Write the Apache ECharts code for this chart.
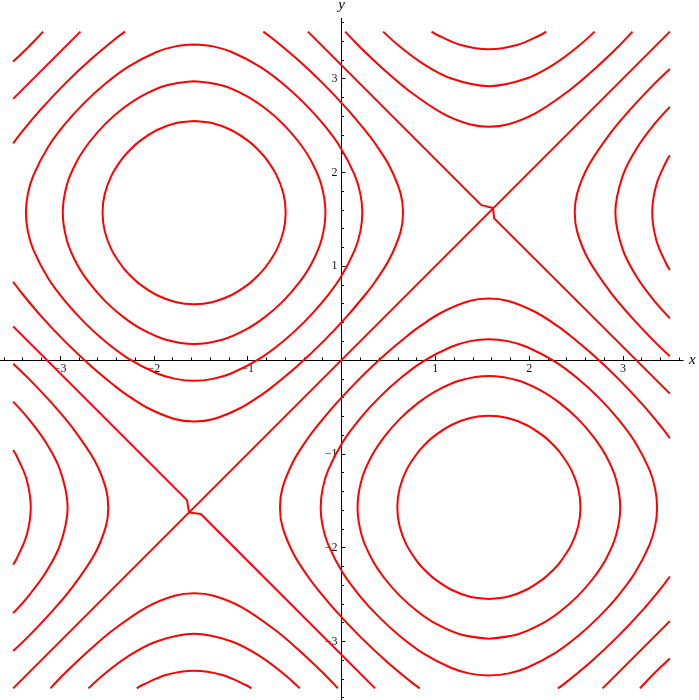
<!DOCTYPE html>
<html><head><meta charset="utf-8">
<script src="https://cdn.jsdelivr.net/npm/echarts@6/dist/echarts.min.js"></script>
<style>html,body{margin:0;padding:0;background:#fff}#c{width:699px;height:700px}</style>
</head><body><div id="c"></div>
<script>
// Tick values
const majorTicks = [-3, -2, -1, 1, 2, 3];
const minorTicks = [-3.6,-3.4,-3.2,-2.8,-2.6,-2.4,-2.2,-1.8,-1.6,-1.4,-1.2,-0.8,-0.6,-0.4,-0.2,0.2,0.4,0.6,0.8,1.2,1.4,1.6,1.8,2.2,2.4,2.6,2.8,3.2,3.4,3.6];

// Contour lines, [x, y] pairs
// level -1.56 ring (upper left)
const minRing156 = [[-1.571,2.547],[-1.371,2.523],[-1.171,2.449],[-0.991,2.333],[-0.895,2.247],[-0.809,2.151],[-0.693,1.971],[-0.619,1.771],[-0.595,1.571],[-0.619,1.371],[-0.693,1.171],[-0.809,0.991],[-0.895,0.895],[-0.991,0.809],[-1.171,0.693],[-1.371,0.619],[-1.571,0.595],[-1.771,0.619],[-1.971,0.693],[-2.151,0.809],[-2.247,0.895],[-2.333,0.991],[-2.449,1.171],[-2.523,1.371],[-2.547,1.571],[-2.523,1.771],[-2.449,1.971],[-2.333,2.151],[-2.247,2.247],[-2.151,2.333],[-1.971,2.449],[-1.771,2.523],[-1.571,2.547]];
// level -1.17 ring
const minRing117 = [[-1.571,2.971],[-1.271,2.926],[-1.021,2.819],[-0.821,2.688],[-0.625,2.517],[-0.454,2.321],[-0.323,2.121],[-0.216,1.871],[-0.171,1.571],[-0.216,1.271],[-0.323,1.021],[-0.454,0.821],[-0.625,0.625],[-0.821,0.454],[-1.021,0.323],[-1.271,0.216],[-1.571,0.171],[-1.871,0.216],[-2.121,0.323],[-2.321,0.454],[-2.517,0.625],[-2.688,0.821],[-2.819,1.021],[-2.926,1.271],[-2.971,1.571],[-2.926,1.871],[-2.819,2.121],[-2.688,2.321],[-2.517,2.517],[-2.321,2.688],[-2.121,2.819],[-1.871,2.926],[-1.571,2.971]];
// level -0.78 ring
const minRing078 = [[-1.571,3.364],[-1.371,3.343],[-1.171,3.283],[-0.871,3.127],[-0.621,2.942],[-0.401,2.741],[-0.2,2.521],[-0.015,2.271],[0.141,1.971],[0.201,1.771],[0.222,1.571],[0.201,1.371],[0.141,1.171],[-0.015,0.871],[-0.2,0.621],[-0.401,0.401],[-0.621,0.2],[-0.871,0.015],[-1.171,-0.141],[-1.371,-0.201],[-1.571,-0.222],[-1.771,-0.201],[-1.971,-0.141],[-2.271,0.015],[-2.521,0.2],[-2.741,0.401],[-2.942,0.621],[-3.127,0.871],[-3.283,1.171],[-3.343,1.371],[-3.364,1.571],[-3.343,1.771],[-3.283,1.971],[-3.127,2.271],[-2.942,2.521],[-2.741,2.741],[-2.521,2.942],[-2.271,3.127],[-1.971,3.283],[-1.771,3.343],[-1.571,3.364]];
// level -0.39 open curve
const minBig039 = [[-0.834,3.5],[-0.721,3.415],[-0.471,3.205],[-0.196,2.946],[0.063,2.671],[0.273,2.421],[0.358,2.308],[0.509,2.071],[0.629,1.779],[0.656,1.571],[0.629,1.363],[0.509,1.071],[0.358,0.834],[0.273,0.721],[0.063,0.471],[-0.196,0.196],[-0.471,-0.063],[-0.721,-0.273],[-0.834,-0.358],[-1.071,-0.509],[-1.363,-0.629],[-1.571,-0.656],[-1.779,-0.629],[-2.071,-0.509],[-2.308,-0.358],[-2.421,-0.273],[-2.671,-0.063],[-2.946,0.196],[-3.205,0.471],[-3.415,0.721],[-3.5,0.834]];
const minCorner039 = [[-3.5,2.308],[-3.415,2.421],[-3.205,2.671],[-2.946,2.946],[-2.671,3.205],[-2.421,3.415],[-2.308,3.5]];

// level +1.56 / +1.17 / +0.78 rings (lower right)
const maxRing156 = [[1.571,-2.547],[1.371,-2.523],[1.171,-2.449],[0.991,-2.333],[0.895,-2.247],[0.809,-2.151],[0.693,-1.971],[0.619,-1.771],[0.595,-1.571],[0.619,-1.371],[0.693,-1.171],[0.809,-0.991],[0.895,-0.895],[0.991,-0.809],[1.171,-0.693],[1.371,-0.619],[1.571,-0.595],[1.771,-0.619],[1.971,-0.693],[2.151,-0.809],[2.247,-0.895],[2.333,-0.991],[2.449,-1.171],[2.523,-1.371],[2.547,-1.571],[2.523,-1.771],[2.449,-1.971],[2.333,-2.151],[2.247,-2.247],[2.151,-2.333],[1.971,-2.449],[1.771,-2.523],[1.571,-2.547]];
const maxRing117 = [[1.571,-2.971],[1.271,-2.926],[1.021,-2.819],[0.821,-2.688],[0.625,-2.517],[0.454,-2.321],[0.323,-2.121],[0.216,-1.871],[0.171,-1.571],[0.216,-1.271],[0.323,-1.021],[0.454,-0.821],[0.625,-0.625],[0.821,-0.454],[1.021,-0.323],[1.271,-0.216],[1.571,-0.171],[1.871,-0.216],[2.121,-0.323],[2.321,-0.454],[2.517,-0.625],[2.688,-0.821],[2.819,-1.021],[2.926,-1.271],[2.971,-1.571],[2.926,-1.871],[2.819,-2.121],[2.688,-2.321],[2.517,-2.517],[2.321,-2.688],[2.121,-2.819],[1.871,-2.926],[1.571,-2.971]];
const maxRing078 = [[1.571,-3.364],[1.371,-3.343],[1.171,-3.283],[0.871,-3.127],[0.621,-2.942],[0.401,-2.741],[0.2,-2.521],[0.015,-2.271],[-0.141,-1.971],[-0.201,-1.771],[-0.222,-1.571],[-0.201,-1.371],[-0.141,-1.171],[0.015,-0.871],[0.2,-0.621],[0.401,-0.401],[0.621,-0.2],[0.871,-0.015],[1.171,0.141],[1.371,0.201],[1.571,0.222],[1.771,0.201],[1.971,0.141],[2.271,-0.015],[2.521,-0.2],[2.741,-0.401],[2.942,-0.621],[3.127,-0.871],[3.283,-1.171],[3.343,-1.371],[3.364,-1.571],[3.343,-1.771],[3.283,-1.971],[3.127,-2.271],[2.942,-2.521],[2.741,-2.741],[2.521,-2.942],[2.271,-3.127],[1.971,-3.283],[1.771,-3.343],[1.571,-3.364]];
const maxBig039 = [[0.834,-3.5],[0.721,-3.415],[0.471,-3.205],[0.196,-2.946],[-0.063,-2.671],[-0.273,-2.421],[-0.358,-2.308],[-0.509,-2.071],[-0.629,-1.779],[-0.656,-1.571],[-0.629,-1.363],[-0.509,-1.071],[-0.358,-0.834],[-0.273,-0.721],[-0.063,-0.471],[0.196,-0.196],[0.471,0.063],[0.721,0.273],[0.834,0.358],[1.071,0.509],[1.363,0.629],[1.571,0.656],[1.779,0.629],[2.071,0.509],[2.308,0.358],[2.421,0.273],[2.671,0.063],[2.946,-0.196],[3.205,-0.471],[3.415,-0.721],[3.5,-0.834]];
const maxCorner039 = [[3.5,-2.308],[3.415,-2.421],[3.205,-2.671],[2.946,-2.946],[2.671,-3.205],[2.421,-3.415],[2.308,-3.5]];

// bottom arcs (levels -0.39, -0.78, -1.17)
const botArc039 = [[-3.102,-3.5],[-2.946,-3.337],[-2.671,-3.078],[-2.421,-2.868],[-2.071,-2.632],[-1.779,-2.513],[-1.571,-2.486],[-1.363,-2.513],[-1.071,-2.632],[-0.721,-2.868],[-0.471,-3.078],[-0.196,-3.337],[-0.039,-3.5]];
const botArc078 = [[-2.698,-3.5],[-2.521,-3.341],[-2.271,-3.156],[-1.971,-3.0],[-1.571,-2.919],[-1.171,-3.0],[-0.871,-3.156],[-0.621,-3.341],[-0.444,-3.5]];
const botArc117 = [[-2.182,-3.5],[-2.121,-3.464],[-1.871,-3.357],[-1.571,-3.312],[-1.271,-3.357],[-1.021,-3.464],[-0.96,-3.5]];
// top arcs (levels +0.39, +0.78, +1.17)
const topArc039 = [[3.102,3.5],[2.946,3.337],[2.671,3.078],[2.421,2.868],[2.071,2.632],[1.779,2.513],[1.571,2.486],[1.363,2.513],[1.071,2.632],[0.721,2.868],[0.471,3.078],[0.196,3.337],[0.039,3.5]];
const topArc078 = [[2.698,3.5],[2.521,3.341],[2.271,3.156],[1.971,3.0],[1.571,2.919],[1.171,3.0],[0.871,3.156],[0.621,3.341],[0.444,3.5]];
const topArc117 = [[2.182,3.5],[2.121,3.464],[1.871,3.357],[1.571,3.312],[1.271,3.357],[1.021,3.464],[0.96,3.5]];
// right arcs (levels -0.39, -0.78, -1.17)
const rightArc039 = [[3.5,3.102],[3.337,2.946],[3.078,2.671],[2.868,2.421],[2.632,2.071],[2.513,1.779],[2.486,1.571],[2.513,1.363],[2.632,1.071],[2.868,0.721],[3.078,0.471],[3.337,0.196],[3.5,0.039]];
const rightArc078 = [[3.5,2.698],[3.341,2.521],[3.156,2.271],[3.0,1.971],[2.919,1.571],[3.0,1.171],[3.156,0.871],[3.341,0.621],[3.5,0.444]];
const rightArc117 = [[3.5,2.182],[3.464,2.121],[3.357,1.871],[3.312,1.571],[3.357,1.271],[3.464,1.021],[3.5,0.96]];
// left arcs (levels +0.39, +0.78, +1.17)
const leftArc039 = [[-3.5,-3.102],[-3.337,-2.946],[-3.078,-2.671],[-2.868,-2.421],[-2.632,-2.071],[-2.513,-1.779],[-2.486,-1.571],[-2.513,-1.363],[-2.632,-1.071],[-2.868,-0.721],[-3.078,-0.471],[-3.337,-0.196],[-3.5,-0.039]];
const leftArc078 = [[-3.5,-2.698],[-3.341,-2.521],[-3.156,-2.271],[-3.0,-1.971],[-2.919,-1.571],[-3.0,-1.171],[-3.156,-0.871],[-3.341,-0.621],[-3.5,-0.444]];
const leftArc117 = [[-3.5,-2.182],[-3.464,-2.121],[-3.357,-1.871],[-3.312,-1.571],[-3.357,-1.271],[-3.464,-1.021],[-3.5,-0.96]];
// corner arcs
const cornerBR = [[3.181,-3.5],[3.262,-3.414],[3.337,-3.337],[3.414,-3.262],[3.5,-3.181]];
const cornerTL = [[-3.181,3.5],[-3.262,3.414],[-3.337,3.337],[-3.414,3.262],[-3.5,3.181]];
// level 0 lines
const zeroDiag = [[-3.5,-3.5],[3.5,3.5]];
const zeroUpper = [[-0.358,3.5],[1.49,1.651],[1.615,1.62],[1.627,1.51],[3.5,-0.358]];
const zeroLower = [[-3.5,0.358],[-1.647,-1.494],[-1.625,-1.625],[-1.5,-1.641],[0.358,-3.5]];
const zeroTL = [[-3.5,2.783],[-2.783,3.5]];
const zeroBR = [[2.783,-3.5],[3.5,-2.783]];

const smoothCurves = [minRing156, minRing117, minRing078, minBig039, minCorner039,
  maxRing156, maxRing117, maxRing078, maxBig039, maxCorner039,
  botArc039, botArc078, botArc117, topArc039, topArc078, topArc117,
  rightArc039, rightArc078, rightArc117, leftArc039, leftArc078, leftArc117,
  cornerBR, cornerTL];
const straightCurves = [zeroDiag, zeroUpper, zeroLower, zeroTL, zeroBR];

const RED = '#ff0000';
const mk = (d, sm) => ({type: 'line', data: d, showSymbol: false, symbol: 'none', smooth: sm,
  lineStyle: {color: RED, width: 2}, silent: true, clip: false, z: 3});
const series = smoothCurves.map(d => mk(d, 0.35)).concat(straightCurves.map(d => mk(d, false)));

const fmt = v => (v < 0 ? '\u2212' + Math.abs(v) : String(v));
const labelFont = {fontFamily: 'Liberation Serif', fontSize: 12, color: '#111'};
const LIM = 3.64;
const GW = 683;            // grid size in px
const OFF = -GW / 2;       // moves axes from the grid edge to the middle (value 0)
const axisLine = {onZero: false, lineStyle: {color: '#000', width: 1}};

const option = {
  animation: false,
  backgroundColor: '#fff',
  grid: {left: 0, top: 18.5, width: GW, height: GW, containLabel: false, outerBoundsMode: 'none'},
  xAxis: [
    {type: 'value', min: -LIM, max: LIM, position: 'bottom', offset: OFF, axisLine: axisLine,
     axisTick: {inside: true, length: 4, customValues: majorTicks, lineStyle: {color: '#000'}},
     axisLabel: Object.assign({customValues: majorTicks, formatter: fmt, margin: 3}, labelFont),
     splitLine: {show: false},
     name: 'x', nameLocation: 'end', nameGap: 6,
     nameTextStyle: {fontFamily: 'Liberation Serif', fontStyle: 'italic', fontSize: 15, color: '#000'}},
    {type: 'value', min: -LIM, max: LIM, position: 'bottom', offset: OFF, axisLine: axisLine,
     axisTick: {inside: true, length: 2.5, customValues: minorTicks, lineStyle: {color: '#000'}},
     axisLabel: {show: false}, splitLine: {show: false}}
  ],
  yAxis: [
    {type: 'value', min: -LIM, max: LIM, position: 'left', offset: OFF, axisLine: axisLine,
     axisTick: {inside: true, length: 4, customValues: majorTicks, lineStyle: {color: '#000'}},
     axisLabel: Object.assign({customValues: majorTicks, formatter: fmt, margin: 4}, labelFont),
     splitLine: {show: false},
     name: 'y', nameLocation: 'end', nameGap: 6,
     nameTextStyle: {fontFamily: 'Liberation Serif', fontStyle: 'italic', fontSize: 15, color: '#000'}},
    {type: 'value', min: -LIM, max: LIM, position: 'left', offset: OFF, axisLine: axisLine,
     axisTick: {inside: true, length: 2.5, customValues: minorTicks, lineStyle: {color: '#000'}},
     axisLabel: {show: false}, splitLine: {show: false}}
  ],
  series: series
};
const chart = echarts.init(document.getElementById('c'));
chart.setOption(option);
</script>
</body></html>
